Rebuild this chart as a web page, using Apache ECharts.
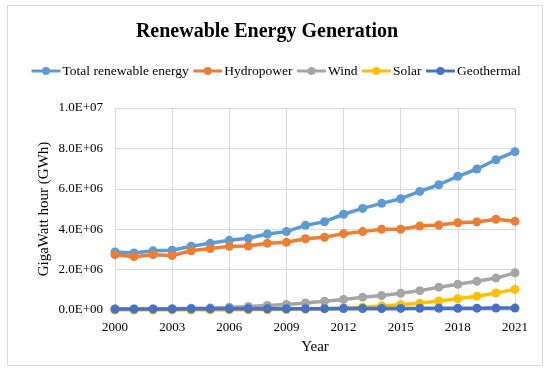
<!DOCTYPE html>
<html>
<head>
<meta charset="utf-8">
<script src="https://cdn.jsdelivr.net/npm/echarts@6/dist/echarts.min.js"></script>
<style>html,body{margin:0;padding:0;background:#fff;}#c{width:550px;height:371px;}</style>
</head>
<body>
<div id="c"></div>
<script>
const years = ['2000','2001','2002','2003','2004','2005','2006','2007','2008','2009','2010','2011','2012','2013','2014','2015','2016','2017','2018','2019','2020','2021'];
const totalRenewable = [2870000,2820000,2930000,2960000,3160000,3300000,3450000,3550000,3760000,3880000,4190000,4370000,4740000,5030000,5280000,5510000,5870000,6200000,6620000,6980000,7440000,7840000];
const hydropower = [2740000,2640000,2740000,2700000,2930000,3040000,3150000,3170000,3300000,3350000,3530000,3600000,3780000,3880000,4000000,4000000,4160000,4210000,4320000,4360000,4490000,4390000];
const wind = [31000,38000,52000,63000,85000,104000,133000,171000,220000,277000,346000,437000,524000,635000,712000,831000,959000,1130000,1270000,1420000,1580000,1840000];
const solar = [1000,1200,1500,2000,2800,4400,5500,7500,12000,20000,32000,65000,100000,139000,197000,256000,329000,443000,556000,685000,840000,1020000];
const geothermal = [52000,53000,54000,55000,56000,58000,59000,61000,63000,64000,66000,68000,69000,71000,75000,80000,82000,85000,88000,91000,94000,95000];
const seriesNames = ['Total renewable energy','Hydropower','Wind','Solar','Geothermal'];
const colors = ['#5B9BD5','#ED7D31','#A5A5A5','#FFC000','#4472C4'];
const yTicks = {min:0, max:10000000, interval:2000000};

function sci(v){
  if (v === 0) return '0.0E+00';
  const e = Math.floor(Math.log10(Math.abs(v)));
  const m = v / Math.pow(10, e);
  return m.toFixed(1) + 'E' + (e >= 0 ? '+' : '-') + String(Math.abs(e)).padStart(2,'0');
}

const font = '"Liberation Serif", "Times New Roman", serif';
const chart = echarts.init(document.getElementById('c'));
const dataSets = [totalRenewable, hydropower, wind, solar, geothermal];
const series = dataSets.map((d,i)=>({
  name: seriesNames[i], type:'line', data:d,
  symbol:'circle', symbolSize:9, showSymbol:true,
  lineStyle:{width:3.5, color:colors[i]},
  itemStyle:{color:colors[i]},
  z: i===4 ? 5 : (i===3 ? 3 : (i===2 ? 4 : 2)),
  animation:false
}));
chart.setOption({
  animation:false,
  backgroundColor:'#fff',
  color: colors,
  graphic:[{type:'rect', shape:{x:7.5,y:5.5,width:535,height:360}, style:{fill:'none', stroke:'#d9d9d9', lineWidth:1}, z:-1}],
  title:{text:'Renewable Energy Generation', left:262, textAlign:'center', top:17,
    textStyle:{fontFamily:font, fontWeight:'bold', fontSize:20, color:'#000'}},
  legend:{top:64, left:30, padding:0, itemWidth:29, itemHeight:10, itemGap:3,
    lineStyle:{width:3},
    textStyle:{fontFamily:font, fontSize:13.5, color:'#000', padding:[0,0,0,-3]},
    data: seriesNames},
  grid:{left:115, right:35, top:108, bottom:61, containLabel:false},
  xAxis:{type:'category', data:years, boundaryGap:false,
    name:'Year', nameLocation:'middle', nameGap:30,
    nameTextStyle:{fontFamily:font, fontSize:15, color:'#000'},
    axisLine:{show:true, lineStyle:{color:'#d9d9d9'}},
    axisTick:{show:false},
    axisLabel:{interval:2, fontFamily:font, fontSize:13, color:'#000', margin:11},
    splitLine:{show:true, interval:2, lineStyle:{color:'#d9d9d9'}}},
  yAxis:{type:'value', min:yTicks.min, max:yTicks.max, interval:yTicks.interval,
    name:'GigaWatt hour (GWh)', nameLocation:'middle', nameGap:63, nameMoveOverlap:false,
    nameTextStyle:{fontFamily:font, fontSize:15, color:'#000'},
    axisLine:{show:false}, axisTick:{show:false},
    axisLabel:{formatter:sci, fontFamily:font, fontSize:13, color:'#000', margin:12},
    splitLine:{show:true, lineStyle:{color:'#d9d9d9'}}},
  series: series
});
</script>
</body>
</html>
